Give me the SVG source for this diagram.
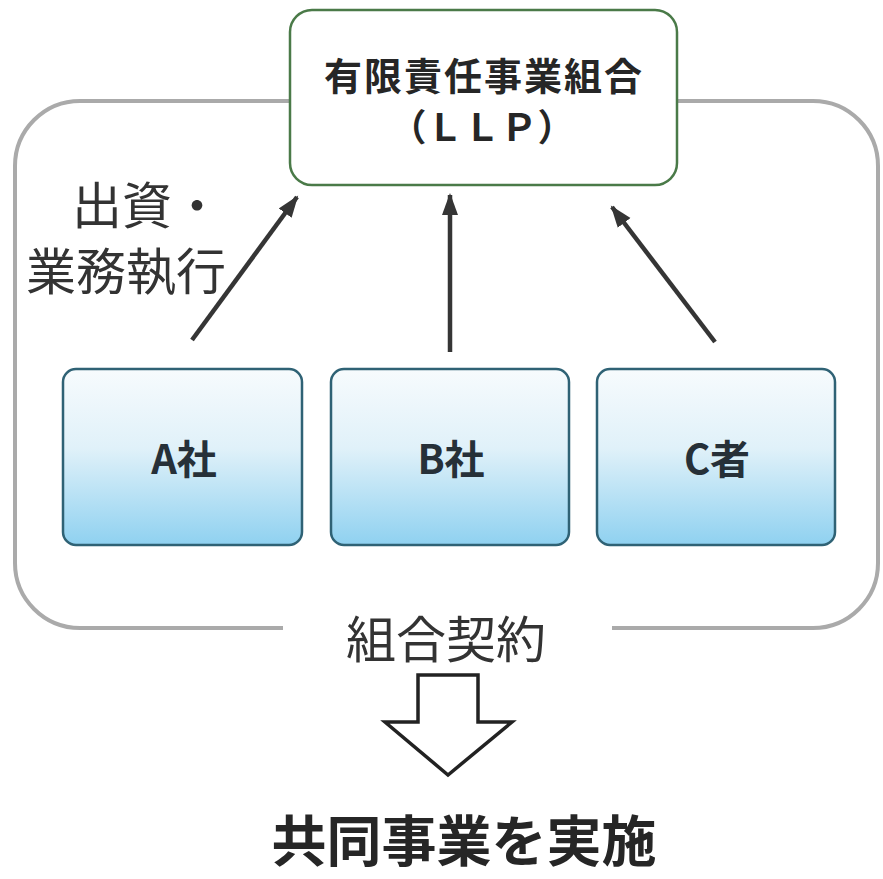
<svg xmlns="http://www.w3.org/2000/svg" width="883" height="879" viewBox="0 0 883 879">
<style>
.jp{font-family:"Noto Sans CJK JP","Noto Sans CJK SC",sans-serif;}
.lbl{font-size:50px;fill:#333;font-weight:400;}
.ttl{font-size:38px;font-weight:700;fill:#262626;letter-spacing:2px;}
.llp{font-size:37px;font-weight:700;fill:#262626;}
.co{font-size:40px;font-weight:700;fill:#263038;}
.co-box{stroke:#2f6275;stroke-width:2.5;fill:url(#blue);}
.conn{stroke:#353535;stroke-width:4.5;fill:none;marker-end:url(#ah);}
</style>
<defs>
<linearGradient id="blue" x1="0" y1="0" x2="0" y2="1">
<stop offset="0" stop-color="#f7fbfd"/>
<stop offset="0.45" stop-color="#e0f1f9"/>
<stop offset="1" stop-color="#8fd1f0"/>
</linearGradient>
<marker id="ah" markerUnits="userSpaceOnUse" markerWidth="24" markerHeight="20" refX="20" refY="10" orient="auto">
<path d="M0,2 L22,10 L0,18 Z" fill="#353535"/>
</marker>
</defs>
<rect width="883" height="879" fill="#fff"/>
<g id="contract-frame">
<path d="M283,628 L80,628 A65,65 0 0 1 15,563 L15,166 A65,65 0 0 1 80,101 L813,101 A65,65 0 0 1 878,166 L878,563 A65,65 0 0 1 813,628 L612,628" fill="none" stroke="#aaaaaa" stroke-width="4"/>
<text class="jp lbl" x="446" y="658" text-anchor="middle">組合契約</text>
</g>
<g id="llp">
<rect x="290" y="10" width="387" height="175" rx="22" fill="#fff" stroke="#4a7a48" stroke-width="2.5"/>
<text class="jp ttl" x="484" y="90" text-anchor="middle">有限責任事業組合</text>
<text class="jp llp" x="482" y="141" text-anchor="middle">（ＬＬＰ）</text>
</g>
<g id="label-invest">
<text class="jp lbl" x="72" y="224">出資・</text>
<text class="jp lbl" x="26" y="290">業務執行</text>
</g>
<g id="connectors">
<line class="conn" x1="192" y1="340" x2="297" y2="197"/>
<line class="conn" x1="450" y1="352" x2="450" y2="195"/>
<line class="conn" x1="715" y1="342" x2="612" y2="207"/>
</g>
<g id="company-a">
<rect class="co-box" x="63" y="369" width="239" height="176" rx="13"/>
<text class="jp co" x="184" y="474" text-anchor="middle">A社</text>
</g>
<g id="company-b">
<rect class="co-box" x="331" y="369" width="238" height="176" rx="13"/>
<text class="jp co" x="451" y="474" text-anchor="middle">B社</text>
</g>
<g id="company-c">
<rect class="co-box" x="597" y="369" width="238" height="176" rx="13"/>
<text class="jp co" x="717" y="474" text-anchor="middle">C者</text>
</g>
<g id="result-arrow">
<polygon points="418,675 478,675 478,722 512,722 448,775 385,722 418,722" fill="#fff" stroke="#222" stroke-width="3.5" stroke-linejoin="miter"/>
</g>
<g id="result">
<text class="jp" x="464" y="861" text-anchor="middle" font-size="55" font-weight="700" fill="#262626">共同事業を実施</text>
</g>
</svg>
